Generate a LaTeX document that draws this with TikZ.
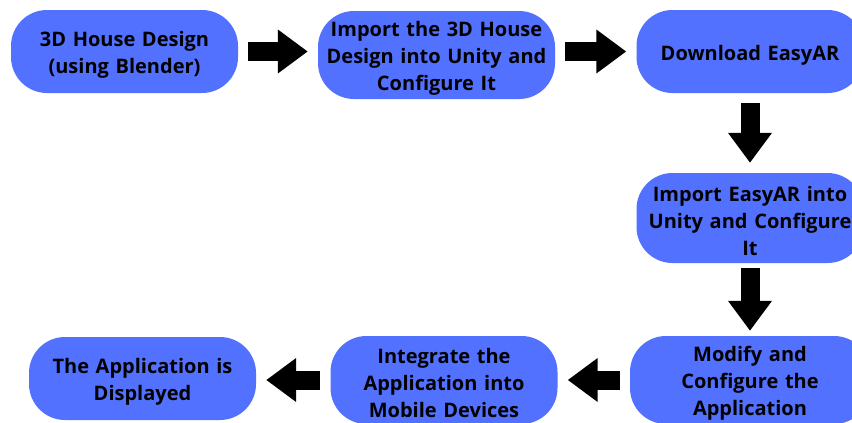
\documentclass[tikz,border=0pt]{standalone}
\usepackage{fontspec}
\setmainfont{Open Sans}
\usetikzlibrary{arrows.meta}
\definecolor{stageblue}{RGB}{82,113,255}
\tikzstyle{stage}=[fill=stageblue, rounded corners=36pt, inner sep=0, minimum width=227pt, minimum height=83pt,
                   text width=224pt, align=center, font=\fontsize{20}{27}\selectfont\bfseries,
                   % Tall first line, so the text sits a little low in the boxes.
                   execute at begin node={\rule{0pt}{22pt}}]
\tikzstyle{flow}=[line width=19pt, -{Triangle[width=42pt, length=30pt]}, shorten <=10pt, shorten >=10pt]
\tikzstyle{flowchart}=[x=1pt, y=-1pt,
                       % Canvas of the reference picture.
                       execute at begin picture={\useasboundingbox[fill=white] (0, 0) rectangle (852, 423);}]
\begin{document}
\begin{tikzpicture}[flowchart]
        \node[stage] (house) at (124.5, 51.5) {3D House Design\\(using Blender)};
        \node[stage, minimum width=237pt, minimum height=88pt] (import3d) at (436.5, 55) {Import the 3D House\\Design into Unity and\\Configure It};
        \node[stage] (download) at (750, 51.5) {Download EasyAR};
        \node[stage, minimum height=90pt] (importar) at (750, 218) {Import EasyAR into\\Unity and Configure\\It};
        \node[stage, minimum width=240pt, minimum height=88pt] (modify) at (750, 380) {Modify and\\Configure the\\Application};
        \node[stage, minimum height=88pt] (integrate) at (444, 380) {Integrate the\\Application into\\Mobile Devices};
        \node[stage] (displayed) at (142.5, 378.5) {The Application is\\Displayed};
        \draw[flow] (house.east) -- (house.east -| import3d.west);
        \draw[flow] (download.west -| import3d.east) -- (download.west);
        \draw[flow] (download.south) -- (importar.north);
        \draw[flow, shorten <=5pt, shorten >=5pt] (importar.south) -- (modify.north);
        \draw[flow] (modify.west) -- (integrate.east);
        \draw[flow] (integrate.west) -- (integrate.west -| displayed.east);
    \end{tikzpicture}
\end{document}
